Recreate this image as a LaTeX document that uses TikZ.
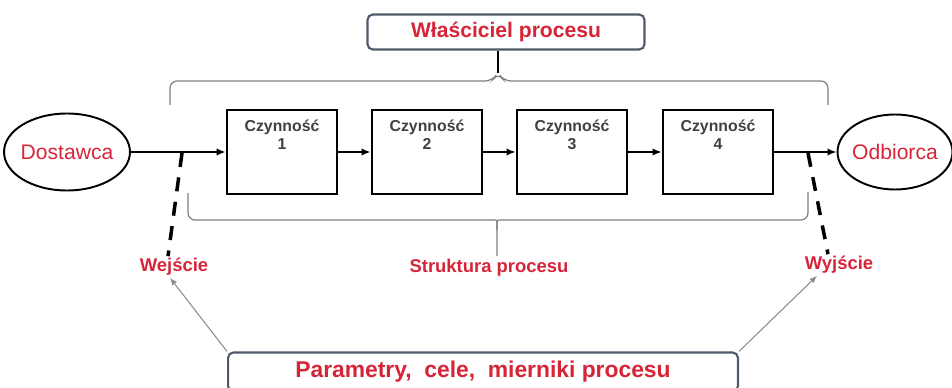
\documentclass[tikz,border=0pt]{standalone}
\usepackage{fontspec}
\setmainfont{Liberation Sans}
\usetikzlibrary{positioning,arrows.meta,shapes.geometric}

\definecolor{figRed}  {RGB}{214,36,56}
\definecolor{figFrame}{RGB}{78,90,108}
\colorlet{figBrace}{black!50}
\colorlet{figText} {black!75}

\begin{document}
\begin{tikzpicture}[x=0.02cm, y=-0.02cm,
    >={Latex[length=1.8mm,width=1.5mm]},
    actbox/.style={draw, line width=1.6pt, minimum width=2.2cm,
      minimum height=1.68cm, inner sep=0pt},
    actlab/.style={font=\bfseries\fontsize{9}{10.5}\selectfont,
      text=figText, align=center, inner sep=0pt},
    party/.style={ellipse, draw, line width=1.1pt, inner xsep=-2pt,
      text=figRed, font=\fontsize{12}{14}\selectfont},
    framebox/.style={draw=figFrame, line width=1.2pt, rounded corners=3pt,
      fill=white, text=figRed},
    redlab/.style={text=figRed, inner sep=1pt,
      font=\bfseries\fontsize{10.5}{12}\selectfont},
    flow/.style={->, line width=1.4pt},
    probe/.style={line width=2pt, dash pattern=on 8pt off 6pt},
    pointer/.style={->, >={Latex[length=1.5mm,width=1.2mm]},
      draw=black!45, line width=0.6pt},
    brace/.style={draw=figBrace, line width=0.7pt, rounded corners=4pt}]
  \useasboundingbox (0,0) rectangle (952,388);
  \clip (0,0) rectangle (952,388);

  \node[framebox, minimum width=5.54cm, minimum height=0.7cm,
        font=\bfseries\fontsize{12}{14}\selectfont]
        (owner) at (506,32) {Właściciel procesu};
  \node[framebox, minimum width=10.2cm, minimum height=0.78cm,
        font=\bfseries\fontsize{13}{15}\selectfont]
        (param) at (483,372) {Parametry,\ \ cele,\ \ mierniki procesu};

  \node[party, minimum width=2.52cm, minimum height=1.54cm]
        (dost) at (67,152) {Dostawca};
  \node[party, minimum width=2.3cm, minimum height=1.5cm]
        (odb) at (895,152) {Odbiorca};

  \foreach \n/\x in {1/282,2/427,3/572,4/718}{
    \node[actbox] (act\n) at (\x,152) {};
    \node[actlab, below=6pt of act\n.north] (lab\n) {Czynność\\\n};
  }

  \draw[flow] (dost) -- (act1);
  \foreach \a/\b in {1/2,2/3,3/4}
    \draw[flow] (act\a) -- (act\b);
  \draw[flow] (act4) -- (odb);

  \coordinate (ownTip) at (498,73);
  \draw[brace] (170,105) |- (492,81) -- (ownTip) -- (504,81) -| (828,105);
  \draw[line width=0.7pt] (owner.south -| ownTip) -- (ownTip);

  \coordinate (strTip) at (497,256);
  \draw[brace] (188,193) |- (488,220) .. controls (497,220) .. (497,230)
        -- (strTip);
  \draw[brace] (808,192) |- (506,220) .. controls (497,220) .. (497,230);

  \node[redlab] (wej)    at (174,267) {Wejście};
  \node[redlab] (wyj)    at (839,265) {Wyjście};
  \node[redlab] (struct) at (489,268) {Struktura procesu};

  \coordinate (inPt)  at (182,153);
  \coordinate (outPt) at (808,153);
  \draw[probe] (inPt)  -- ([xshift=-0.12cm]wej.north);
  \draw[probe] (outPt) -- ([xshift=-0.22cm]wyj.north);

  \draw[pointer] (param.north west) -- ([xshift=-0.08cm]wej.south);
  \draw[pointer] (param.north east) -- ([xshift=-0.44cm]wyj.south);
\end{tikzpicture}
\end{document}
